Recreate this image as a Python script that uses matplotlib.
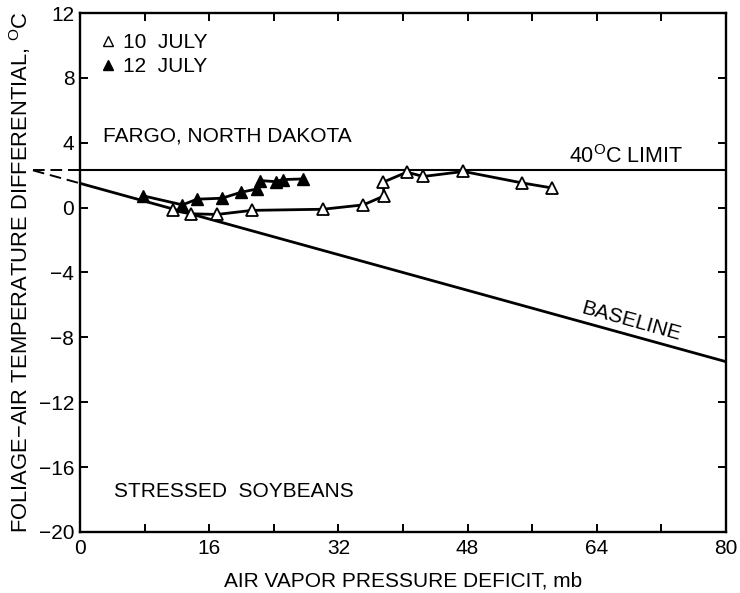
import matplotlib
matplotlib.use("Agg")
import matplotlib.pyplot as plt
import numpy as np
from matplotlib.lines import Line2D

plt.rcParams['font.family'] = ['Liberation Sans', 'DejaVu Sans']
plt.rcParams['mathtext.fontset'] = 'custom'
plt.rcParams['mathtext.rm'] = 'Liberation Sans'
plt.rcParams['font.size'] = 15

# 10 July (open triangles)
vpd_10 = [11.5, 13.7, 17.0, 21.3, 30.1, 35.1, 37.7, 37.5, 40.5, 42.5, 47.5, 54.8, 58.5]
dt_10 = [-0.17, -0.38, -0.42, -0.17, -0.10, 0.17, 0.73, 1.56, 2.19, 1.92, 2.23, 1.52, 1.21]

# 12 July (filled triangles)
vpd_12 = [7.8, 12.7, 14.5, 17.6, 19.9, 21.9, 22.3, 24.3, 25.1, 27.6]
dt_12 = [0.73, 0.17, 0.52, 0.58, 0.94, 1.15, 1.67, 1.60, 1.73, 1.77]

# baseline and upper limit
base_a, base_b = 1.5, -0.1375
limit_40 = 2.3
x_meet = (limit_40 - base_a) / base_b

fig = plt.figure(figsize=(7.4, 5.93), dpi=100)
ax = fig.add_axes([0.108, 0.103, 0.873, 0.875])
ax.set_xlim(0, 80)
ax.set_ylim(-20, 12)

# baseline + limit lines
xb = np.array([0, 80])
ax.plot(xb, base_a + base_b * xb, color='black', lw=2.0)
ax.plot(xb, [limit_40, limit_40], color='black', lw=1.5)
# dashed extensions left of the axis
ax.plot([x_meet, 0], [limit_40, base_a], color='black', lw=1.4, ls=(0, (6, 3)), clip_on=False)
ax.plot([x_meet, 0], [limit_40, limit_40], color='black', lw=1.4, ls=(0, (6, 3)), clip_on=False)

ax.plot(vpd_12, dt_12, color='black', lw=2.0, marker='^', ms=8,
        mfc='black', mec='black', zorder=3)
ax.plot(vpd_10, dt_10, color='black', lw=2.0, marker='^', ms=8.5,
        mfc='white', mec='black', mew=1.3, zorder=4)

handles = [Line2D([], [], ls='none', marker='^', ms=7, mfc='white', mec='black', mew=1.0),
           Line2D([], [], ls='none', marker='^', ms=7, mfc='black', mec='black')]
ax.legend(handles, ['10  JULY', '12  JULY'], loc='upper left', frameon=False,
          handletextpad=0.2, handlelength=1.0, borderaxespad=0.3,
          bbox_to_anchor=(0.005, 0.99), labelspacing=0.25, fontsize=15)

ax.text(2.8, 4.4, 'FARGO, NORTH DAKOTA', ha='left', va='center')
ax.text(60.6, 3.15, r'40$^{\rm O}$C LIMIT', ha='left', va='center', fontsize=15.5)
ax.text(68.2, -7.0, 'BASELINE', ha='center', va='center', rotation=-15.5)
ax.text(4.2, -17.5, 'STRESSED  SOYBEANS', ha='left', va='center')

ax.set_xticks([0, 16, 32, 48, 64, 80])
ax.set_xticks([8, 24, 40, 56, 72], minor=True)
ax.set_yticks(np.arange(-20, 13, 4))
ax.tick_params(which='both', direction='in', length=6, width=1.4,
               top=True, right=True, labelsize=15)
ax.tick_params(axis='x', pad=5)
ax.tick_params(axis='y', pad=4)
for s in ax.spines.values():
    s.set_linewidth(1.7)

ax.set_xlabel('AIR VAPOR PRESSURE DEFICIT, mb', labelpad=10)
ax.set_ylabel('FOLIAGE\u2212AIR TEMPERATURE DIFFERENTIAL, $^{\\rm O}$C', labelpad=4,
              fontsize=15.8)

fig.savefig('out.png', dpi=100)
